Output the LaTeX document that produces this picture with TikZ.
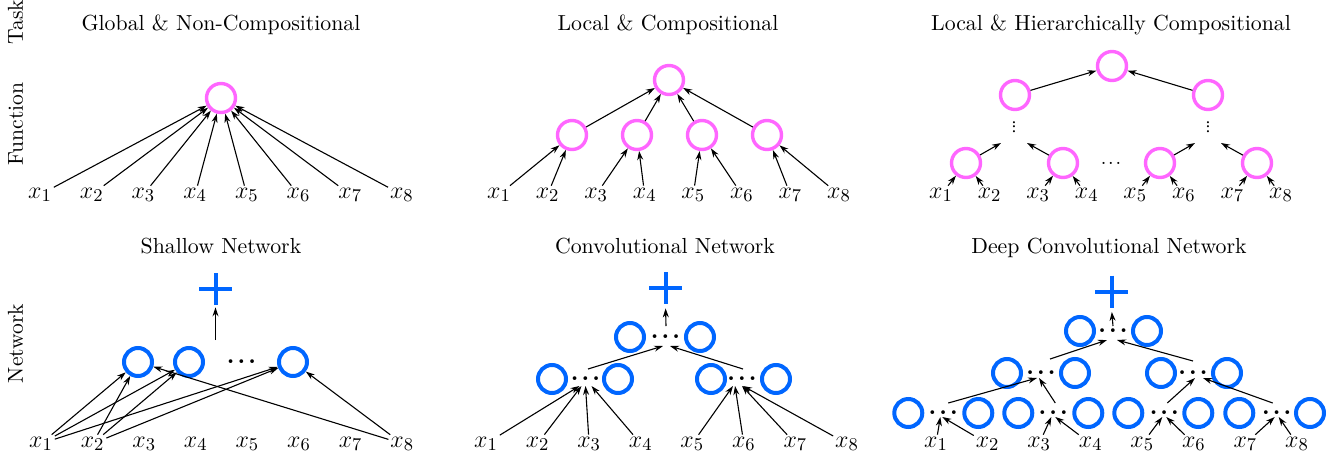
\documentclass[tikz,border=0pt]{standalone}
\usetikzlibrary{arrows.meta,calc}
\definecolor{fpink}{RGB}{255,102,255}
\definecolor{nblue}{RGB}{0,102,255}
\newcommand\bigdots{{\bfseries .\kern1.3pt.\kern1.3pt.}}
\newcommand\smalldots{.\kern0.9pt.\kern0.9pt.}
\newcommand\tinydots{.\kern-0.5pt.\kern-0.5pt.}
\begin{document}
\begin{tikzpicture}[x=0.5pt,y=-0.5pt,
  fnode/.style={circle,draw=fpink,line width=1.7pt,minimum size=14.5pt,inner sep=0},
  nnode/.style={circle,draw=nblue,line width=2pt,minimum size=14pt,inner sep=0},
  arr/.style={-{Stealth[length=4.5pt,width=3pt]},line width=0.55pt},
  xlab/.style={inner sep=0.8pt,font=\fontsize{12.5}{14}\selectfont,anchor=base},
  ttl/.style={font=\fontsize{10.9}{12}\selectfont,anchor=base,inner sep=0},
  rowlab/.style={font=\fontsize{10.8}{12}\selectfont,rotate=90,anchor=base,inner sep=0},
  bdots/.style={inner sep=0,font=\fontsize{13}{14}\selectfont},
  sdots/.style={inner sep=0,font=\fontsize{10}{12}\selectfont},
  vdotsnode/.style={inner sep=0,rotate=90,font=\fontsize{10}{12}\selectfont},
  plusnode/.style={minimum width=16.5pt,minimum height=16pt,inner sep=0,
    path picture={\draw[nblue,line width=2pt]
      (path picture bounding box.north) -- (path picture bounding box.south)
      (path picture bounding box.west) -- (path picture bounding box.east);}}]
\useasboundingbox (0,0) rectangle (1335,456);

% row labels
\node[rowlab] (rTask) at (23,22) {Task};
\node[rowlab] (rFun) at (23,124) {Function};
\node[rowlab] (rNet) at (23,343.5) {Network};

% ---------- panel 1
\node[ttl] (t1) at (221,30) {Global \& Non-Compositional};
\node[fnode] (A) at (221,98) {};
\foreach \i in {1,...,8} {
  \node[xlab] (a\i) at ({40+51.7*(\i-1)},198) {$x_{\i}$};
  \draw[arr] (a\i) -- (A);
}

% ---------- panel 2
\node[ttl] (t2) at (668,30) {Local \& Compositional};
\node[fnode] (B0) at (669,80) {};
\foreach \j/\x in {1/572,2/637,3/702,4/767} {
  \node[fnode] (B\j) at (\x,135) {};
  \draw[arr] (B\j) -- (B0);
}
\foreach \i/\j in {1/1,2/1,3/2,4/2,5/3,6/3,7/4,8/4} {
  \node[xlab] (b\i) at ({499+48.57*(\i-1)},198) {$x_{\i}$};
  \draw[arr] (b\i) -- (B\j);
}

% ---------- panel 3
\node[ttl] (t3) at (1111,30) {Local \& Hierarchically Compositional};
\node[fnode] (C0) at (1112,66) {};
\node[fnode] (CL) at (1015,95) {};
\node[fnode] (CR) at (1208,95) {};
\draw[arr] (CL) -- (C0);
\draw[arr] (CR) -- (C0);
\node[vdotsnode] (VL) at (1014,127) {\tinydots};
\node[vdotsnode] (VR) at (1208,127) {\tinydots};
\node[sdots] (H) at (1111,163) {\smalldots};
\coordinate (k1) at (1001,143);
\coordinate (k2) at (1027,143);
\coordinate (k3) at (1195,143);
\coordinate (k4) at (1221,143);
\foreach \j/\x in {1/966,2/1063,3/1160,4/1257} {
  \node[fnode] (C\j) at (\x,163) {};
  \draw[arr] (C\j) -- (k\j);
}
\foreach \i/\j in {1/1,2/1,3/2,4/2,5/3,6/3,7/4,8/4} {
  \node[xlab] (f\i) at ({941+48.57*(\i-1)},198) {$x_{\i}$};
  \draw[arr] (f\i) -- (C\j);
}

% ---------- panel 4
\node[ttl] (t4) at (221,253) {Shallow Network};
\node[plusnode] (P1) at (215.5,289) {};
\coordinate (s1) at (215.5,340);
\draw[arr,shorten >=1pt] (s1) -- (P1.south);
\node[nnode] (N1) at (138,362) {};
\node[nnode] (N2) at (189,362) {};
\node[nnode] (N3) at (293,362) {};
\node[bdots] (D1) at (241.5,362) {\bigdots};
\foreach \i in {1,...,8} {
  \node[xlab] (c\i) at ({41+51.6*(\i-1)},447) {$x_{\i}$};
}
\foreach \i/\j in {1/1,1/2,1/3,2/1,2/2,2/3,8/1,8/3} {
  \draw[arr] (c\i) -- (N\j);
}

% ---------- panel 5
\node[ttl] (t5) at (665,253) {Convolutional Network};
\node[plusnode] (P2) at (665.5,288) {};
\node[nnode] (E1a) at (630,337) {};
\node[nnode] (E1b) at (700,337) {};
\node[bdots] (ED1) at (665.5,337) {\bigdots};
\node[nnode] (E2a) at (552,379) {};
\node[nnode] (E2b) at (618,379) {};
\node[bdots] (ED2) at (585.5,379) {\bigdots};
\node[nnode] (E3a) at (711,379) {};
\node[nnode] (E3b) at (776,379) {};
\node[bdots] (ED3) at (742,379) {\bigdots};
\foreach \i in {1,...,8} {
  \node[xlab] (d\i) at ({486+51.57*(\i-1)},447) {$x_{\i}$};
}
\foreach \i/\dx in {1/-6,2/-4,3/0,4/6} {
  \draw[arr] (d\i) -- ($(ED2)+(\dx,7)$);
}
\foreach \i/\dx in {5/-9,6/-7,7/0,8/1} {
  \draw[arr] (d\i) -- ($(ED3)+(\dx,7)$);
}
\draw[arr] ($(ED2)+(2.5,-10)$) -- ($(ED1)+(-2.5,9)$);
\draw[arr] ($(ED3)+(1,-10)$) -- ($(ED1)+(4.5,9)$);
\draw[arr,shorten >=2pt] ($(ED1)+(0.5,-11)$) -- (P2.south);

% ---------- panel 6
\node[ttl] (t6) at (1109,253) {Deep Convolutional Network};
\node[plusnode] (P3) at (1111.5,291.5) {};
\node[nnode] (F1a) at (1080,331) {};
\node[nnode] (F1b) at (1147,331) {};
\node[bdots] (FD1) at (1113,331) {\bigdots};
\node[nnode] (F2a) at (1007,373) {};
\node[nnode] (F2b) at (1075,373) {};
\node[bdots] (FD2) at (1041,373) {\bigdots};
\node[nnode] (F2c) at (1161,373) {};
\node[nnode] (F2d) at (1227,373) {};
\node[bdots] (FD3) at (1193,373) {\bigdots};
\foreach \n/\x in {1/908.3,2/978.3,3/1018.3,4/1088.3,5/1128.3,6/1198.3,7/1239.3,8/1310} {
  \node[nnode] (G\n) at (\x,413) {};
}
\node[bdots] (FD4) at (943.3,413) {\bigdots};
\node[bdots] (FD5) at (1053.3,413) {\bigdots};
\node[bdots] (FD6) at (1164.3,413) {\bigdots};
\node[bdots] (FD7) at (1276.7,413) {\bigdots};
\foreach \i in {1,...,8} {
  \node[xlab] (e\i) at ({936+51.57*(\i-1)},447) {$x_{\i}$};
}
\foreach \i/\k/\dx in {1/4/-3,2/4/-1,3/5/-2,4/5/2,5/6/-2,6/6/2,7/7/-2,8/7/2} {
  \draw[arr] (e\i) -- ($(FD\k)+(\dx,4)$);
}
\draw[arr] ($(FD4)+(5,-10)$) -- ($(FD2)+(-4,5)$);
\draw[arr] ($(FD5)+(2,-10)$) -- ($(FD2)+(-2,5)$);
\draw[arr] ($(FD6)+(3,-10)$) -- ($(FD3)+(2,5)$);
\draw[arr] ($(FD7)+(-4,-10)$) -- ($(FD3)+(10,5)$);
\draw[arr] ($(FD2)+(9,-14)$) -- ($(FD1)+(-6,9)$);
\draw[arr] ($(FD3)+(0,-12)$) -- ($(FD1)+(4,9)$);
\draw[arr,shorten >=2pt] ($(FD1)+(0,-5)$) -- (P3.south);
\end{tikzpicture}
\end{document}
